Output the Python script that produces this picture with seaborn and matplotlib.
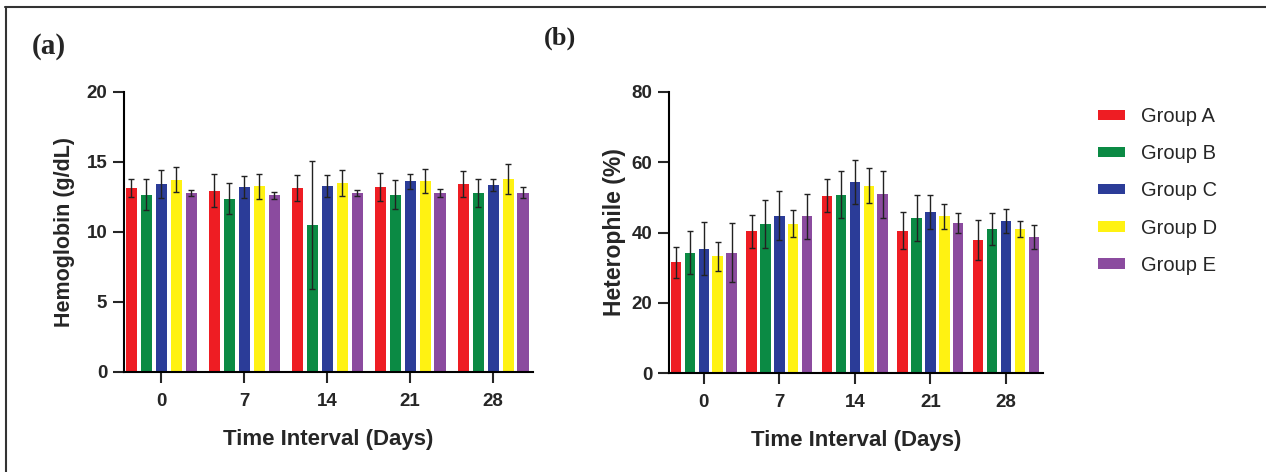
import pandas as pd
import matplotlib
matplotlib.use("Agg")
import matplotlib.pyplot as plt
from matplotlib.lines import Line2D
import seaborn as sns

# Data
days = ["0", "7", "14", "21", "28"]
groups = ["Group A", "Group B", "Group C", "Group D", "Group E"]

hb_a = [13.15, 12.96, 13.15, 13.22, 13.43]
hb_b = [12.67, 12.37, 10.5, 12.67, 12.8]
hb_c = [13.4, 13.2, 13.27, 13.62, 13.35]
hb_d = [13.75, 13.27, 13.5, 13.67, 13.8]
hb_e = [12.8, 12.63, 12.8, 12.8, 12.8]
hb_err_a = [0.65, 1.2, 0.9, 1.0, 0.9]
hb_err_b = [1.1, 1.1, 4.55, 1.05, 1.0]
hb_err_c = [1.0, 0.8, 0.8, 0.55, 0.45]
hb_err_d = [0.9, 0.9, 0.9, 0.85, 1.05]
hb_err_e = [0.2, 0.25, 0.2, 0.3, 0.4]

het_a = [31.5, 40.3, 50.5, 40.5, 38.0]
het_b = [34.2, 42.5, 50.8, 44.1, 41.0]
het_c = [35.4, 44.8, 54.3, 45.8, 43.4]
het_d = [33.2, 42.5, 53.3, 44.6, 41.0]
het_e = [34.3, 44.6, 50.9, 42.7, 38.6]
het_err_a = [4.5, 4.8, 4.7, 5.2, 5.7]
het_err_b = [6.1, 6.8, 6.8, 6.5, 4.6]
het_err_c = [7.5, 6.9, 6.2, 4.8, 3.4]
het_err_d = [4.1, 3.8, 5.0, 3.5, 2.2]
het_err_e = [8.4, 6.4, 6.7, 2.8, 3.4]

colors = ["#EE1D23", "#0B8A44", "#2B3C98", "#FFF212", "#8B4B9F"]
palette = dict(zip(groups, colors))


def long_df(series):
    rows = []
    for g, vals in zip(groups, series):
        for d, v in zip(days, vals):
            rows.append({"day": d, "group": g, "value": v})
    return pd.DataFrame(rows)


df_hb = long_df([hb_a, hb_b, hb_c, hb_d, hb_e])
df_het = long_df([het_a, het_b, het_c, het_d, het_e])
hb_err = [hb_err_a, hb_err_b, hb_err_c, hb_err_d, hb_err_e]
het_err = [het_err_a, het_err_b, het_err_c, het_err_d, het_err_e]

sns.set_style("ticks")
plt.rcParams["font.family"] = ["Liberation Sans", "DejaVu Sans"]

fig = plt.figure(figsize=(12.66, 4.72), dpi=100)
ax1 = fig.add_axes([124 / 1266, 100 / 472, 409 / 1266, 280 / 472])
ax2 = fig.add_axes([669 / 1266, 99 / 472, 374 / 1266, 281 / 472])


def draw_panel(ax, df, errs, width, gap):
    sns.barplot(data=df, x="day", y="value", hue="group", order=days,
                hue_order=groups, palette=palette, width=width, gap=gap,
                errorbar=None, saturation=1, linewidth=0, ax=ax)
    # error bars on top of the seaborn bars
    for cont, err in zip(ax.containers, errs):
        xs = [p.get_x() + p.get_width() / 2 for p in cont.patches]
        ys = [p.get_height() for p in cont.patches]
        ax.errorbar(xs, ys, yerr=err, fmt="none", ecolor="#222222",
                    elinewidth=1, capsize=2, capthick=1, zorder=5)
    for s in ["top", "right"]:
        ax.spines[s].set_visible(False)
    for s in ["left", "bottom"]:
        ax.spines[s].set_linewidth(1.5)
        ax.spines[s].set_color("black")
    ax.tick_params(axis="both", length=8, width=1.5, labelsize=13.5, pad=4)
    ax.tick_params(axis="x", pad=7)
    ax.set_xlabel("Time Interval (Days)", fontsize=16, fontweight="bold", labelpad=14)


draw_panel(ax1, df_hb, hb_err, 0.9, 0.25)
ax1.set_ylim(0, 20)
ax1.set_yticks([0, 5, 10, 15, 20])
ax1.set_xlim(-0.45, 4.48)
ax1.set_ylabel("Hemoglobin (g/dL)", fontsize=15.5, fontweight="bold", labelpad=8)

draw_panel(ax2, df_het, het_err, 0.92, 0.25)
ax2.set_ylim(0, 80)
ax2.set_yticks([0, 20, 40, 60, 80])
ax2.set_xlim(-0.46, 4.49)
ax2.set_ylabel("Heterophile (%)", fontsize=16.5, fontweight="bold", labelpad=4)

for ax in [ax1, ax2]:
    for lab in ax.get_xticklabels() + ax.get_yticklabels():
        lab.set_fontweight("bold")

# shared legend on the right
handles, labels = ax1.get_legend_handles_labels()
ax1.legend_.remove()
ax2.legend_.remove()
fig.legend(handles, labels, loc="upper left",
           bbox_to_anchor=(1080 / 1266, 1 - 89 / 472), frameon=False,
           fontsize=14.5, handlelength=1.35, handleheight=0.42,
           handletextpad=0.8, labelspacing=0.9)

# panel letters
fig.text(32 / 1266, 1 - 47 / 472, "(a)", fontsize=21, fontweight="bold",
         family="Liberation Serif", va="center", ha="left")
fig.text(544 / 1266, 1 - 38 / 472, "(b)", fontsize=19, fontweight="bold",
         family="Liberation Serif", va="center", ha="left", color="#222222")

# frame lines at top and left
fig.add_artist(Line2D([5 / 1266, 1], [1 - 7 / 472, 1 - 7 / 472], color="#333333", lw=1.5))
fig.add_artist(Line2D([6 / 1266, 6 / 1266], [0, 1 - 7 / 472], color="#333333", lw=1.5))

fig.savefig("out.png", dpi=100)
